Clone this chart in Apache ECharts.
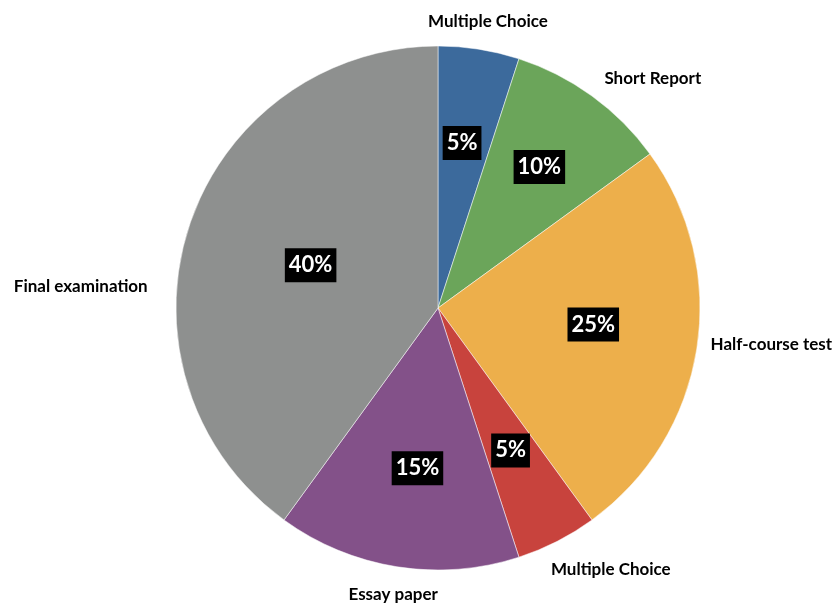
<!DOCTYPE html>
<html>
<head>
<meta charset="utf-8">
<script src="https://cdn.jsdelivr.net/npm/echarts@6/dist/echarts.min.js"></script>
<style>
  html, body { margin: 0; padding: 0; background: #fff; }
  #chart { width: 833px; height: 603px; }
</style>
</head>
<body>
<div id="chart"></div>
<script>
// Assessment weighting, clockwise from 12 o'clock
const categories = ['Multiple Choice', 'Short Report', 'Half-course test', 'Multiple Choice', 'Essay paper', 'Final examination'];
const weights = [5, 10, 25, 5, 15, 40];
const colors = ['#3C6A9C', '#6BA55A', '#EDAF4B', '#C8433D', '#835189', '#8E908F'];

// Label placement (polar: degrees clockwise from top, fraction of the radius)
const nameLabelAngle = [9.9, 43.1, 96.3, 146.5, 188.9, 273.4];
const nameLabelDist = [1.11, 1.2, 1.28, 1.195, 1.105, 1.366];
const pctLabelAngle = [8.3, 35.7, 96.1, 153, 187.3, 288.6];
const pctLabelDist = [0.636, 0.663, 0.596, 0.61, 0.617, 0.513];

const CX = 438, CY = 308, R = 262;
const FONT = 'Lato, "Open Sans", sans-serif';

function polar(angleDeg, frac) {
  const a = angleDeg * Math.PI / 180;
  return { x: CX + Math.sin(a) * frac * R, y: CY - Math.cos(a) * frac * R };
}

const data = categories.map((name, i) => ({
  name: name,
  value: weights[i],
  itemStyle: { color: colors[i] }
}));

const chart = echarts.init(document.getElementById('chart'), null, { renderer: 'canvas' });
chart.setOption({
  animation: false,
  backgroundColor: '#ffffff',
  series: [
    {
      // coloured slices with category names outside
      type: 'pie',
      center: [CX, CY],
      radius: [0, R],
      startAngle: 90,
      clockwise: true,
      avoidLabelOverlap: false,
      silent: true,
      itemStyle: { borderColor: '#ffffff', borderWidth: 0.5 },
      label: {
        show: true,
        position: 'outside',
        formatter: '{b}',
        color: '#000000',
        fontFamily: FONT,
        fontWeight: 'bold',
        fontSize: 17
      },
      labelLine: { show: false },
      labelLayout: function (p) {
        const pt = polar(nameLabelAngle[p.dataIndex], nameLabelDist[p.dataIndex]);
        return { x: pt.x, y: pt.y, align: 'center', verticalAlign: 'middle' };
      },
      data: data
    },
    {
      // transparent twin carrying the percentage badges
      type: 'pie',
      center: [CX, CY],
      radius: [0, R],
      startAngle: 90,
      clockwise: true,
      avoidLabelOverlap: false,
      silent: true,
      itemStyle: { color: 'rgba(0,0,0,0)' },
      label: {
        show: true,
        position: 'inside',
        formatter: p => p.value + '%',
        color: '#ffffff',
        backgroundColor: '#000000',
        padding: [4, 4, 3, 4],
        fontFamily: FONT,
        fontWeight: 'bold',
        fontSize: 22,
        lineHeight: 27
      },
      labelLine: { show: false },
      labelLayout: function (p) {
        const pt = polar(pctLabelAngle[p.dataIndex], pctLabelDist[p.dataIndex]);
        return { x: pt.x, y: pt.y, align: 'center', verticalAlign: 'middle' };
      },
      data: categories.map((name, i) => ({ name: name, value: weights[i] }))
    }
  ]
});
</script>
</body>
</html>
